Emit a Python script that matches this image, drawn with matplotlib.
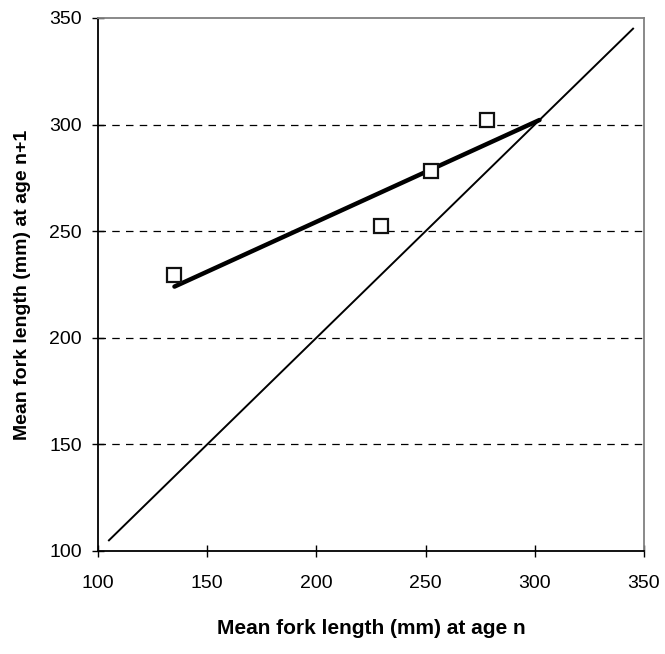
import numpy as np
import matplotlib
matplotlib.use("Agg")
import matplotlib.pyplot as plt

plt.rcParams['font.family'] = ['Liberation Sans', 'DejaVu Sans']

# mean fork length at age n and at age n+1
len_n = [135, 229.5, 252.5, 278]
len_n1 = [229.5, 252.5, 278, 302]

diag = [105, 345]
xticks = [100, 150, 200, 250, 300, 350]
yticks = [100, 150, 200, 250, 300, 350]

fig = plt.figure(figsize=(6.65, 6.54), dpi=100)
ax = fig.add_axes([0.1474, 0.1575, 0.821, 0.815])

# Walford line: fit, drawn from smallest length to L-infinity
b, a = np.polyfit(len_n, len_n1, 1)
linf = a / (1 - b)
fx = np.array([min(len_n), linf])
ax.plot(fx, a + b * fx, color='black', lw=3.2, solid_capstyle='round', zorder=3)

ax.plot(diag, diag, color='black', lw=1.4, zorder=2)

ax.plot(len_n, len_n1, ls='none', marker='s', markersize=10, markerfacecolor='white',
        markeredgecolor='#111111', markeredgewidth=1.6, zorder=4)

for yv in yticks[1:-1]:
    ax.axhline(yv, color='black', lw=0.9, ls=(0, (6, 5)), zorder=1)

ax.set_xlim(100, 350)
ax.set_ylim(100, 350)
ax.set_xticks(xticks)
ax.set_yticks(yticks)
ax.tick_params(axis='both', direction='inout', length=9, width=1, labelsize=14, color='black')
ax.tick_params(axis='x', pad=13)
ax.tick_params(axis='y', pad=7)

ax.spines['left'].set_color('black')
ax.spines['bottom'].set_color('black')
ax.spines['top'].set_color('#808080')
ax.spines['right'].set_color('#808080')
for s in ax.spines.values():
    s.set_linewidth(1.3)

ax.set_xlabel('Mean fork length (mm) at age n', fontsize=15, fontweight='bold', labelpad=19)
ax.set_ylabel('Mean fork length (mm) at age n+1', fontsize=14, fontweight='bold', labelpad=13)

fig.savefig('out.png', dpi=100)
